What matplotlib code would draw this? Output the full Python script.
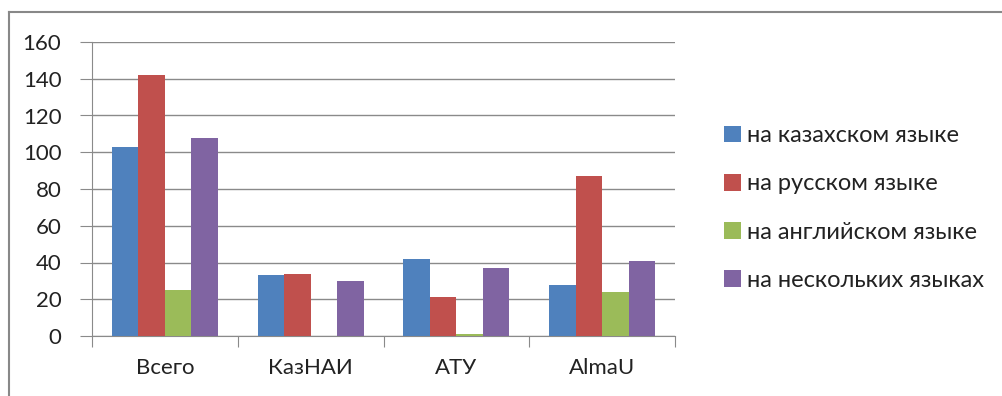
import numpy as np
import matplotlib.pyplot as plt
from matplotlib.lines import Line2D

# данные
categories = ["Всего", "КазНАИ", "АТУ", "AlmaU"]
series_names = ["на казахском языке", "на русском языке",
                "на английском языке", "на нескольких языках"]
kaz = [103, 33, 42, 28]
rus = [142, 34, 21, 87]
eng = [25, 0, 1, 24]
multi = [108, 30, 37, 41]
colors = ["#4F81BD", "#C0504D", "#9BBB59", "#8064A2"]

plt.rcParams['font.family'] = ['Lato', 'DejaVu Sans']
fs = 16

fig = plt.figure(figsize=(10.02, 3.96), dpi=100)
ax = fig.add_axes([92 / 1002, 1 - 336 / 396, (675 - 92) / 1002, (336 - 42) / 396])

x = np.arange(len(categories))
w = 0.182
for i, (vals, name) in enumerate(zip([kaz, rus, eng, multi], series_names)):
    ax.bar(x + (i - 1.5) * w, vals, width=w, color=colors[i], label=name, zorder=3)

ax.set_xlim(-0.5, len(categories) - 0.5)
ax.set_ylim(0, 160)
ax.set_yticks(range(0, 161, 20))
ax.yaxis.grid(True, color="#8a8a8a", linewidth=1.0, zorder=0)
ax.set_axisbelow(True)

for s in ["top", "right"]:
    ax.spines[s].set_visible(False)
ax.spines["left"].set_color("#8a8a8a")
ax.spines["bottom"].set_color("#8a8a8a")

ax.set_xticks(np.arange(-0.5, len(categories), 1.0))
ax.set_xticklabels([])
ax.set_xticks(x, minor=True)
ax.set_xticklabels(categories, minor=True)
ax.tick_params(axis="x", which="major", length=8, color="#8a8a8a", direction="out")
ax.tick_params(axis="x", which="minor", length=0, pad=16, labelsize=fs, labelcolor="#222222")
ax.tick_params(axis="y", length=9, color="#8a8a8a", labelsize=fs, labelcolor="#222222", pad=13)

ax.legend(loc="center left", bbox_to_anchor=(703 / 1002, 1 - 208 / 396),
          bbox_transform=fig.transFigure, frameon=False, fontsize=17,
          handlelength=0.72, handleheight=0.72, handletextpad=0.25,
          labelspacing=1.15, labelcolor="#222222")

# рамка
fig.add_artist(Line2D([9 / 1002, 9 / 1002], [0, 1 - 12 / 396], transform=fig.transFigure,
                      color="#888888", linewidth=1.5))
fig.add_artist(Line2D([9 / 1002, 1001 / 1002], [1 - 12 / 396, 1 - 12 / 396],
                      transform=fig.transFigure, color="#888888", linewidth=1.5))

fig.savefig("out.png", dpi=100)
